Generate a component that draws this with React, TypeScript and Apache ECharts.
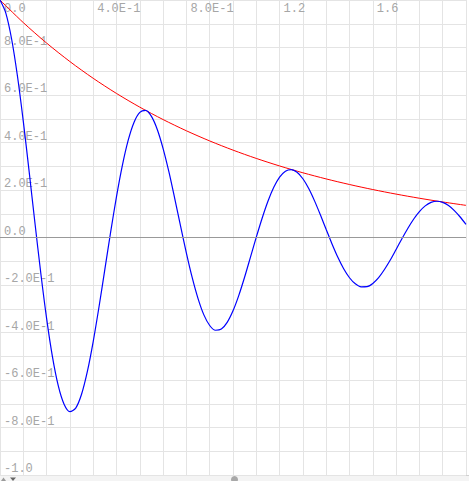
import React, { useEffect, useRef } from "react";
import * as echarts from "echarts";

const blueX = [
  0, 0.025, 0.05, 0.075, 0.1, 0.125, 0.15, 0.175, 0.2, 0.225,
  0.25, 0.275, 0.3, 0.325, 0.35, 0.375, 0.4, 0.425, 0.45, 0.475,
  0.5, 0.525, 0.55, 0.575, 0.6, 0.625, 0.65, 0.675, 0.7, 0.725,
  0.75, 0.775, 0.8, 0.825, 0.85, 0.875, 0.9, 0.925, 0.95, 0.975,
  1.0, 1.025, 1.05, 1.075, 1.1, 1.125, 1.15, 1.175, 1.2, 1.225,
  1.25, 1.275, 1.3, 1.325, 1.35, 1.375, 1.4, 1.425, 1.45, 1.475,
  1.5, 1.525, 1.55, 1.575, 1.6, 1.625, 1.65, 1.675, 1.7, 1.725,
  1.75, 1.775, 1.8, 1.825, 1.85, 1.875, 1.9, 1.925, 1.95, 1.975, 2.0,
];
const blueY = [
  1.0, 0.945, 0.8348, 0.6788, 0.4889, 0.2783, 0.0609, -0.1496, -0.3407, -0.5016,
  -0.6239, -0.7021, -0.7334, -0.7182, -0.66, -0.564, -0.4381, -0.2917, -0.1344, 0.0234,
  0.1721, 0.3027, 0.4088, 0.4846, 0.527, 0.535, 0.5098, 0.4547, 0.3744, 0.2759,
  0.1637, 0.0478, -0.0654, -0.1691, -0.2573, -0.3258, -0.3705, -0.3905, -0.3856, -0.3574,
  -0.3087, -0.2436, -0.1664, -0.0826, 0.0015, 0.0813, 0.1527, 0.2114, 0.2542, 0.2792,
  0.2859, 0.2747, 0.2473, 0.2061, 0.1542, 0.0955, 0.0337, -0.0271, -0.0833, -0.1317,
  -0.1695, -0.1951, -0.2076, -0.2069, -0.1934, -0.169, -0.1348, -0.0948, -0.0503, -0.0052,
  0.0381, 0.0769, 0.1091, 0.1331, 0.1477, 0.1526, 0.1479, 0.1344, 0.1132, 0.0863, 0.0552,
];

const redX = [0, 0.1, 0.2, 0.3, 0.4, 0.5, 0.6, 0.7, 0.8, 0.9, 1.0, 1.1, 1.2, 1.3, 1.4, 1.5, 1.6, 1.7, 1.8, 1.9, 2.0];
const redY = [1.0, 0.9048, 0.8187, 0.7408, 0.6703, 0.6065, 0.5488, 0.4966, 0.4493, 0.4066, 0.3679, 0.3329, 0.3012, 0.2725, 0.2466, 0.2231, 0.2019, 0.1827, 0.1653, 0.1496, 0.1353];

const xTickValues = [0, 0.4, 0.8, 1.2, 1.6];
const xTickLabels = ["0.0", "4.0E-1", "8.0E-1", "1.2", "1.6"];
const yTickValues = [-1, -0.8, -0.6, -0.4, -0.2, 0, 0.2, 0.4, 0.6, 0.8];
const yTickLabels = ["-1.0", "-8.0E-1", "-6.0E-1", "-4.0E-1", "-2.0E-1", "0.0", "2.0E-1", "4.0E-1", "6.0E-1", "8.0E-1"];

function pick(values: number[], labels: string[], v: number): string {
  const i = values.findIndex((t) => Math.abs(t - v) < 1e-6);
  return i >= 0 ? labels[i] : "";
}

export default function App() {
  const ref = useRef<HTMLDivElement>(null);
  useEffect(() => {
    if (!ref.current) return;
    const chart = echarts.init(ref.current, undefined, { renderer: "svg" });
    const labelFont = {
      fontFamily: "Liberation Mono",
      fontSize: 12,
      color: "#a6a6a6",
    };
    chart.setOption({
      animation: false,
      backgroundColor: "#ffffff",
      grid: { left: -1.7, top: 0, width: 474.4, height: 475 },
      xAxis: {
        type: "value",
        position: "top",
        min: 0,
        max: 2,
        interval: 0.1,
        axisLine: { show: false },
        axisTick: { show: false },
        splitLine: { show: true, lineStyle: { color: "#e4e4e4", width: 1 } },
        axisLabel: {
          ...labelFont,
          inside: true,
          align: "left",
          verticalAlign: "top",
          margin: 3,
          padding: [0, 0, 0, 4],
          showMinLabel: true,
          showMaxLabel: true,
          formatter: (v: number) => pick(xTickValues, xTickLabels, v),
        },
      },
      yAxis: {
        type: "value",
        min: -1,
        max: 1,
        interval: 0.1,
        axisLine: { show: false },
        axisTick: { show: false },
        splitLine: { show: true, lineStyle: { color: "#e4e4e4", width: 1 } },
        axisLabel: {
          ...labelFont,
          inside: true,
          align: "left",
          verticalAlign: "bottom",
          margin: 4,
          lineHeight: 12,
          showMinLabel: true,
          showMaxLabel: true,
          formatter: (v: number) => pick(yTickValues, yTickLabels, v),
        },
      },
      series: [
        {
          type: "line",
          data: redX.map((x, i) => [x, redY[i]]),
          showSymbol: false,
          smooth: 0.3,
          lineStyle: { color: "#ff0000", width: 1 },
          silent: true,
          markLine: {
            silent: true,
            symbol: ["none", "none"],
            label: { show: false },
            lineStyle: { color: "#999999", width: 1, type: "solid" },
            data: [{ yAxis: 0 }],
          },
        },
        {
          type: "line",
          data: blueX.map((x, i) => [x, blueY[i]]),
          showSymbol: false,
          smooth: 0.3,
          lineStyle: { color: "#0000ff", width: 1.2 },
          silent: true,
        },
      ],
      graphic: [
        { type: "rect", left: 0, top: 476, shape: { width: 469, height: 5 }, style: { fill: "#f4f4f4" }, silent: true },
        { type: "line", shape: { x1: 0, y1: 475.5, x2: 469, y2: 475.5 }, style: { stroke: "#d0d0d0", lineWidth: 1 }, silent: true },
        { type: "polygon", shape: { points: [[1, 481], [3.5, 477.5], [6, 481]] }, style: { fill: "#9a9a9a" }, silent: true },
        { type: "polygon", shape: { points: [[10, 477.5], [16, 477.5], [13, 481]] }, style: { fill: "#666666" }, silent: true },
        { type: "circle", shape: { cx: 234.5, cy: 479.5, r: 3.5 }, style: { fill: "#a8a8a8" }, silent: true },
      ],
    });
    return () => chart.dispose();
  }, []);
  return (
    <div
      ref={ref}
      style={{ position: "absolute", left: 0, top: 0, width: 469, height: 481, overflow: "hidden" }}
    />
  );
}
